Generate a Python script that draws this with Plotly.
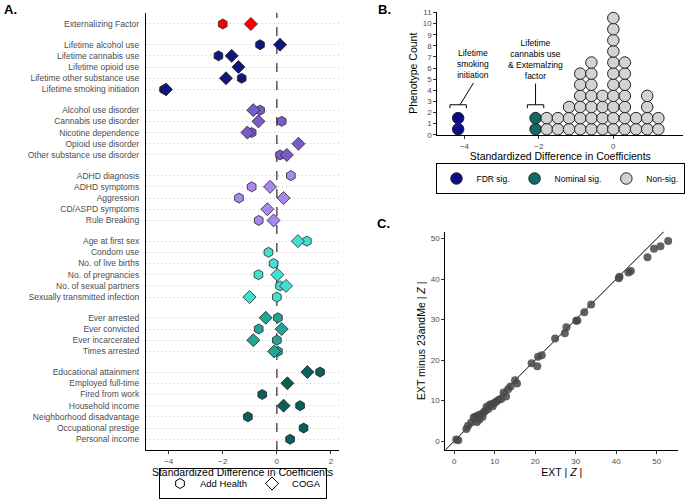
import plotly.graph_objects as go

FONT = "Liberation Sans, Arial, Helvetica, sans-serif"

# ---------------- Panel A data ----------------
labels = ["Externalizing Factor",
          "Lifetime alcohol use", "Lifetime cannabis use", "Lifetime opioid use",
          "Lifetime other substance use", "Lifetime smoking initiation",
          "Alcohol use disorder", "Cannabis use disorder", "Nicotine dependence",
          "Opioid use disorder", "Other substance use disorder",
          "ADHD diagnosis", "ADHD symptoms", "Aggression", "CD/ASPD symptoms", "Rule Breaking",
          "Age at first sex", "Condom use", "No. of live births", "No. of pregnancies",
          "No. of sexual partners", "Sexually transmitted infection",
          "Ever arrested", "Ever convicted", "Ever incarcerated", "Times arrested",
          "Educational attainment", "Employed full-time", "Fired from work", "Household income",
          "Neighborhood disadvantage", "Occupational prestige", "Personal income"]
groups = [0, 1, 1, 1, 1, 1, 2, 2, 2, 2, 2, 3, 3, 3, 3, 3, 4, 4, 4, 4, 4, 4,
          5, 5, 5, 5, 6, 6, 6, 6, 6, 6, 6]
add_health = [-2.0, -0.62, -2.16, None, -1.30, -4.17,
              -0.62, 0.18, -0.93, None, 0.12,
              0.52, -0.93, -1.40, None, -0.67,
              1.11, -0.31, -0.12, -0.68, 0.12, 0.0,
              0.04, -0.67, 0.0, 0.04,
              1.60, None, -0.54, 0.86, -1.07, 0.99, 0.49]
coga = [-0.96, 0.12, -1.67, -1.42, -1.88, -4.10,
        -0.87, -0.68, -1.09, 0.80, 0.37,
        None, -0.25, 0.25, -0.35, -0.12,
        0.78, None, None, 0.02, 0.34, -1.01,
        -0.41, 0.18, -0.87, -0.10,
        1.13, 0.39, None, 0.25, None, None, None]
group_colors = ["#ff0000", "#10157f", "#7b5cc6", "#a888ee", "#42e0d2", "#22a596", "#0b5e59"]
a_xticks = [-4, -2, 0, 2]

# ---------------- Panel B data ----------------
b_bins = [-4.17, -2.09, -1.79, -1.49, -1.19, -0.89, -0.59, -0.29, 0.0, 0.31, 0.61, 0.91, 1.21]
b_counts = [2, 2, 2, 2, 3, 6, 7, 4, 11, 7, 2, 4, 2]
b_status = ["FDR sig.", "Nominal sig."] + ["Non-sig."] * 11
status_colors = {"FDR sig.": "#0a0a8a", "Nominal sig.": "#106b68", "Non-sig.": "#d3d3d3"}
b_xticks = [-4, -2, 0]
b_yticks = list(range(0, 12))
b_notes = ["Lifetime<br>smoking<br>initiation",
           "Lifetime<br>cannabis use<br>& Externalzing<br>factor"]

# ---------------- Panel C data ----------------
ext_z = [0.5, 1.0, 3.0, 3.4, 4.2, 4.8, 5.2, 5.6, 5.9, 6.2, 6.6, 7.0, 7.3, 7.7, 8.0, 8.4,
         8.8, 9.1, 9.5, 9.9, 10.4, 11.0, 11.6, 12.2, 12.8, 13.3, 13.9, 15.0, 15.5,
         19.1, 20.5, 20.7, 21.6, 24.9, 27.3, 27.7, 30.1, 30.4, 32.1, 33.8,
         40.6, 40.8, 43.0, 43.6, 47.7, 49.3, 50.9, 52.8]
ext_minus_z = [0.4, 0.2, 3.0, 3.8, 4.6, 5.8, 6.0, 4.7, 6.4, 5.3, 6.6, 6.0, 7.1, 7.5, 8.5, 7.9,
               9.0, 9.1, 8.6, 9.4, 9.8, 10.2, 10.4, 12.0, 11.0, 12.8, 13.5, 15.0, 14.2,
               19.2, 18.5, 20.8, 21.2, 25.3, 26.6, 28.1, 29.7, 29.8, 31.8, 33.7,
               40.2, 40.6, 41.6, 42.0, 45.4, 47.5, 48.1, 49.4]
c_ticks = [0, 10, 20, 30, 40, 50]

# ---------------- build ----------------
GAP = 1.85
ypos = []
pos = 0.0
for i, g in enumerate(groups):
    if i > 0:
        pos += 1.0 if g == groups[i - 1] else GAP
    ypos.append(pos)

fig = go.Figure()

cols = [group_colors[g] for g in groups]
fig.add_trace(go.Scatter(
    x=add_health, y=ypos, mode="markers", xaxis="x", yaxis="y", showlegend=False,
    marker=dict(symbol="hexagon", size=10, color=cols, line=dict(color="#222222", width=0.8)),
    cliponaxis=False))
fig.add_trace(go.Scatter(
    x=coga, y=ypos, mode="markers", xaxis="x", yaxis="y", showlegend=False,
    marker=dict(symbol="diamond", size=10, color=cols, line=dict(color="#222222", width=0.8)),
    cliponaxis=False))
# legend entries (panel A)
fig.add_trace(go.Scatter(x=[None], y=[None], mode="markers", name="Add Health", legend="legend",
                         marker=dict(symbol="hexagon-open", size=10, color="black", line=dict(width=1))))
fig.add_trace(go.Scatter(x=[None], y=[None], mode="markers", name="COGA", legend="legend",
                         marker=dict(symbol="diamond-open", size=10, color="black", line=dict(width=1))))

# Panel B stacked dots
for status in ["FDR sig.", "Nominal sig.", "Non-sig."]:
    xs, ys = [], []
    for bx, cnt, st in zip(b_bins, b_counts, b_status):
        if st == status:
            for k in range(cnt):
                xs.append(bx)
                ys.append(k + 0.5)
    fig.add_trace(go.Scatter(
        x=xs, y=ys, mode="markers", xaxis="x2", yaxis="y2", name=status, legend="legend2",
        marker=dict(symbol="circle", size=11.5, color=status_colors[status],
                    line=dict(color="#222222", width=1)),
        cliponaxis=False))

# Panel C
fig.add_trace(go.Scatter(x=[-2.2, 56], y=[-2.2, 56], mode="lines", xaxis="x3", yaxis="y3",
                         showlegend=False, line=dict(color="black", width=1)))
fig.add_trace(go.Scatter(x=ext_z, y=ext_minus_z, mode="markers", xaxis="x3", yaxis="y3",
                         showlegend=False,
                         marker=dict(size=8, color="rgba(70,70,70,0.85)", line=dict(width=0))))

tickfont = dict(family=FONT, size=8, color="#4d4d4d")
titlefont = dict(family=FONT, size=10.5, color="black")

shapes = [
    dict(type="line", xref="x", yref="y domain", x0=0, x1=0, y0=0, y1=1,
         line=dict(color="#555555", width=1.5, dash="dash"), layer="below"),
]
# brackets in panel B
br_y = 2.7
half = 0.22
tick_len = 0.3
b_fdr = b_bins[0]
b_nom = b_bins[1]
for bx in (b_fdr, b_nom):
    shapes.append(dict(type="line", xref="x2", yref="y2", x0=bx - half, x1=bx + half, y0=br_y, y1=br_y,
                       line=dict(color="black", width=1)))
    shapes.append(dict(type="line", xref="x2", yref="y2", x0=bx - half, x1=bx - half, y0=br_y, y1=br_y - tick_len,
                       line=dict(color="black", width=1)))
    shapes.append(dict(type="line", xref="x2", yref="y2", x0=bx + half, x1=bx + half, y0=br_y, y1=br_y - tick_len,
                       line=dict(color="black", width=1)))
shapes.append(dict(type="line", xref="x2", yref="y2", x0=b_fdr + 0.05, x1=b_fdr + 0.41, y0=br_y, y1=br_y + 1.95,
                   line=dict(color="black", width=1)))
shapes.append(dict(type="line", xref="x2", yref="y2", x0=b_nom, x1=b_nom, y0=br_y, y1=br_y + 1.9,
                   line=dict(color="black", width=1)))

annotations = [
    dict(text="<b>A.</b>", x=0.003, y=1 - 9 / 500, xref="paper", yref="paper", xanchor="left",
         yanchor="middle", showarrow=False, font=dict(family=FONT, size=13, color="black")),
    dict(text="<b>B.</b>", x=376 / 685, y=1 - 9 / 500, xref="paper", yref="paper", xanchor="left",
         yanchor="middle", showarrow=False, font=dict(family=FONT, size=13, color="black")),
    dict(text="<b>C.</b>", x=375 / 685, y=1 - 224 / 500, xref="paper", yref="paper", xanchor="left",
         yanchor="middle", showarrow=False, font=dict(family=FONT, size=13, color="black")),
    dict(text=b_notes[0], x=b_fdr + 0.4, y=6.4, xref="x2", yref="y2", showarrow=False,
         xanchor="center", yanchor="middle", font=dict(family=FONT, size=8.5, color="black")),
    dict(text=b_notes[1], x=b_nom, y=6.8, xref="x2", yref="y2", showarrow=False,
         xanchor="center", yanchor="middle", font=dict(family=FONT, size=8.5, color="black")),
]

axis_common = dict(showline=True, linecolor="black", linewidth=1.2, zeroline=False,
                   ticks="outside", ticklen=3, tickcolor="#333333", tickwidth=1,
                   tickfont=tickfont, automargin=False)

fig.update_layout(
    width=685, height=500,
    margin=dict(l=0, r=0, t=0, b=0, autoexpand=False),
    paper_bgcolor="white", plot_bgcolor="white",
    font=dict(family=FONT),
    xaxis=dict(domain=[146 / 685, 339 / 685], range=[-4.84, 2.3], tickvals=a_xticks,
               showgrid=False, anchor="y",
               title=dict(text="Standardized Difference in Coefficients", font=titlefont, standoff=3),
               **axis_common),
    yaxis=dict(domain=[0.1, 1 - 13 / 500], range=[ypos[-1] + 0.96, -0.98],
               tickvals=ypos, ticktext=labels, showgrid=True, gridcolor="#c8c8c8",
               griddash="1px,3px", gridwidth=1, anchor="x", showline=True, linecolor="black",
               linewidth=1.2, zeroline=False, ticks="", ticklabelstandoff=4, automargin=False,
               tickfont=dict(family=FONT, size=8.5, color="#4d4d4d")),
    xaxis2=dict(domain=[437.3 / 685, 683.3 / 685], range=[-4.73, 1.88], tickvals=b_xticks,
                showgrid=False, anchor="y2",
                title=dict(text="Standardized Difference in Coefficients", font=titlefont, standoff=2),
                **axis_common),
    yaxis2=dict(domain=[1 - 134.8 / 500, 1 - 11.7 / 500], range=[0, 11.07], tickvals=b_yticks,
                showgrid=False, anchor="x2",
                title=dict(text="Phenotype Count", font=titlefont, standoff=3),
                **axis_common),
    xaxis3=dict(domain=[445.3 / 685, 678.3 / 685], range=[-2.2, 55.3], tickvals=c_ticks,
                showgrid=False, anchor="y3",
                title=dict(text="EXT | <i>Z</i> |", font=titlefont, standoff=3),
                **axis_common),
    yaxis3=dict(domain=[0.1, 1 - 231.7 / 500], range=[-2.2, 51.7], tickvals=c_ticks,
                showgrid=False, anchor="x3",
                title=dict(text="EXT minus 23andMe | <i>Z</i> |", font=titlefont, standoff=3),
                **axis_common),
    legend=dict(orientation="h", x=243 / 685, y=1 - 499 / 500, xanchor="center", yanchor="bottom",
                bordercolor="black", borderwidth=1, font=dict(family=FONT, size=9.5, color="black"),
                itemwidth=30, bgcolor="white"),
    legend2=dict(orientation="h", x=560 / 685, y=1 - 163 / 500, xanchor="center", yanchor="top",
                 bordercolor="black", borderwidth=1, font=dict(family=FONT, size=8.5, color="black"),
                 itemwidth=30, bgcolor="white"),
    shapes=shapes,
    annotations=annotations,
)

fig.write_html("out.html",
               config={"displayModeBar": False},
               post_script="document.body.style.margin='0';document.body.style.padding='0';"
                           "document.body.style.overflow='hidden';")
